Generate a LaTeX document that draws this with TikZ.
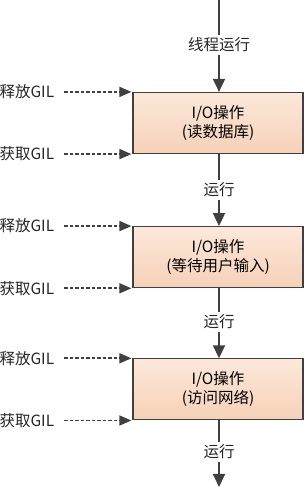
\documentclass[tikz,border=0pt]{standalone}
\usepackage{fontspec}
\setmainfont{Noto Sans CJK SC}
\usepackage{tikz}
\usetikzlibrary{arrows.meta,positioning}

\definecolor{edgegray}{HTML}{404040}
\definecolor{peachtop}{HTML}{FCE8DB}
\definecolor{peachbot}{HTML}{F6D1B7}

\begin{document}
\begin{tikzpicture}[
  x=1pt, y=1pt,
  font=\fontsize{15.5}{19}\selectfont,
  iobox/.style={draw=edgegray, line width=1.2pt, top color=peachtop, bottom color=peachbot,
    align=center, minimum width=170pt, minimum height=61pt, inner sep=0pt},
  run/.style={edgegray, line width=1.8pt},
  runarrow/.style={run, -{Triangle[length=13pt, width=12pt]}},
  gilarrow/.style={edgegray, line width=1.6pt, dashed, dash pattern=on 3.5pt off 2pt,
    -{Triangle[length=12pt, width=10pt]}, shorten <=10pt},
  lbl/.style={inner sep=3pt, text=black!85},
  gil/.style={inner sep=0pt, text=black!85}
]
\useasboundingbox (0,0) rectangle (304,488);

% the three I/O operations
\node[iobox] (b1) at (218,365) {I/O操作\\(读数据库)};
\node[iobox, below=72pt of b1] (b2) {I/O操作\\(等待用户输入)};
\node[iobox, below=70pt of b2] (b3) {I/O操作\\(访问网络)};

% main thread line
\coordinate (top) at (219,488);
\coordinate (bottom) at (219,1);
\node[lbl] (t0) at (219,443) {线程运行};
\node[lbl] (t1) at (219,298) {运行};
\node[lbl] (t2) at (219,166) {运行};
\node[lbl] (t3) at (219,36) {运行};

\draw[run] (top) -- (t0);
\draw[runarrow] (t0) -- (t0 |- b1.north);
\draw[run] (t1 |- b1.south) -- (t1);
\draw[runarrow] (t1) -- (t1 |- b2.north);
\draw[run] (t2 |- b2.south) -- (t2);
\draw[runarrow] (t2) -- (t2 |- b3.north);
\draw[run] (t3 |- b3.south) -- (t3);
\draw[runarrow] (t3) -- (bottom);

% GIL release / acquire
\foreach \b in {b1,b2,b3} {
  \node[gil, left=78pt of \b.north west] (r-\b) {释放GIL};
  \node[gil, left=78pt of \b.south west] (a-\b) {获取GIL};
  \draw[gilarrow] (r-\b.east) -- ([xshift=-1pt]\b.north west);
  \draw[gilarrow] (a-\b.east) -- ([xshift=-1pt]\b.south west);
}
\end{tikzpicture}
\end{document}
